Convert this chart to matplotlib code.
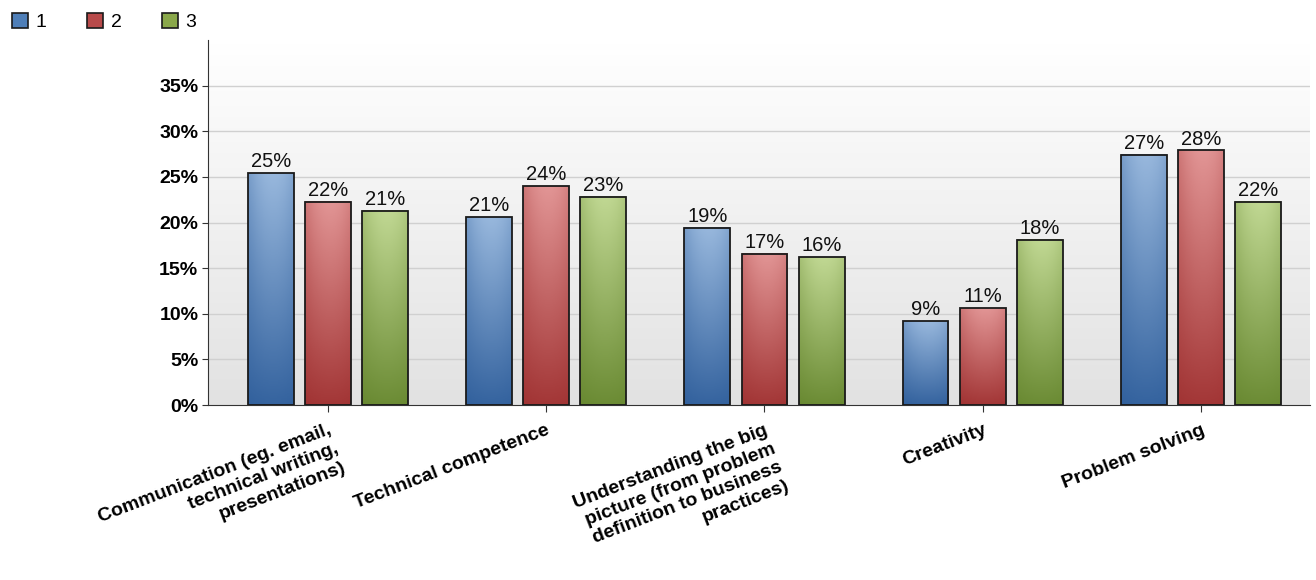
import numpy as np
import matplotlib
matplotlib.use("Agg")
from matplotlib import pyplot as plt
from matplotlib.colors import LinearSegmentedColormap
from matplotlib.patches import Patch

categories = [
    "Communication (eg. email,\ntechnical writing,\npresentations)",
    "Technical competence",
    "Understanding the big\npicture (from problem\ndefinition to business\npractices)",
    "Creativity",
    "Problem solving",
]
series_names = ["1", "2", "3"]
s1 = [25.4, 20.6, 19.4, 9.2, 27.4]
s2 = [22.3, 24.0, 16.6, 10.6, 27.9]
s3 = [21.3, 22.8, 16.2, 18.1, 22.3]
yticks = [0, 5, 10, 15, 20, 25, 30, 35]

# light (top) / dark (bottom) colour per series
shades = [("#9dbce0", "#2a5a98"), ("#e59a9a", "#9c2c2c"), ("#c5dc98", "#62832a")]
legend_colors = ["#4f7fb8", "#b84a4a", "#8aa84a"]

plt.rcParams["font.family"] = ["Liberation Sans", "DejaVu Sans"]

fig = plt.figure(figsize=(13.16, 5.8), dpi=100)
ax = fig.add_axes([208 / 1316, 1 - 405 / 580, 1102 / 1316, 365 / 580])

x = np.arange(len(categories))
w = 0.21
off = 0.262

# background gradient, white at top
bg = np.linspace(0, 1, 100).reshape(-1, 1)
bg_cmap = LinearSegmentedColormap.from_list("bg", ["#ffffff", "#e2e2e2"])
ax.imshow(bg, cmap=bg_cmap, aspect="auto", extent=[-0.55, 4.5, 0, 40],
          origin="upper", zorder=0)

ax.set_xlim(-0.55, 4.5)
ax.set_ylim(0, 40)

for i, vals in enumerate([s1, s2, s3]):
    bars = ax.bar(x + (i - 1) * off, vals, w, facecolor="none",
                  edgecolor="#1a1a1a", linewidth=1.3, zorder=3)
    cmap = LinearSegmentedColormap.from_list("c%d" % i, [shades[i][1], shades[i][0]])
    for b, v in zip(bars, vals):
        gy = np.linspace(0, 1, 100).reshape(-1, 1)
        gx = 1 - 0.25 * np.abs(np.linspace(-1, 1, 40) - 0.1) ** 2
        grad = (gy * 0.85 + 0.1) * gx
        ax.imshow(grad, cmap=cmap, vmin=0, vmax=1, aspect="auto",
                  extent=[b.get_x(), b.get_x() + w, 0, v], origin="lower",
                  clip_path=b, zorder=2)
        ax.text(b.get_x() + w / 2, v + 0.2, "%.0f%%" % v, ha="center",
                va="bottom", fontsize=14.5, color="#111111", zorder=4)

ax.set_yticks(yticks)
ax.set_yticklabels(["%d%%" % t for t in yticks], fontweight="bold", fontsize=14)
for t in yticks[1:]:
    ax.axhline(t, color="#d0d0d0", linewidth=1, zorder=1)

ax.set_xticks(x)
ax.set_xticklabels(categories, rotation=21, ha="right", rotation_mode="anchor",
                   fontweight="bold", fontsize=14, multialignment="right",
                   linespacing=1.22)
ax.tick_params(axis="x", length=5, color="#333333", pad=7)
ax.tick_params(axis="y", length=4, color="#333333", pad=3)

for s in ["top", "right"]:
    ax.spines[s].set_visible(False)
ax.spines["left"].set_color("#333333")
ax.spines["bottom"].set_color("#333333")

handles = [Patch(facecolor=c, edgecolor="#1a1a1a", linewidth=1.2) for c in legend_colors]
fig.legend(handles, series_names, loc="upper left", bbox_to_anchor=(-0.004, 1.008),
           ncol=3, frameon=False, fontsize=14, handlelength=0.8, handleheight=0.8,
           handletextpad=0.4, columnspacing=2.1)

fig.savefig("out.png", dpi=100)
